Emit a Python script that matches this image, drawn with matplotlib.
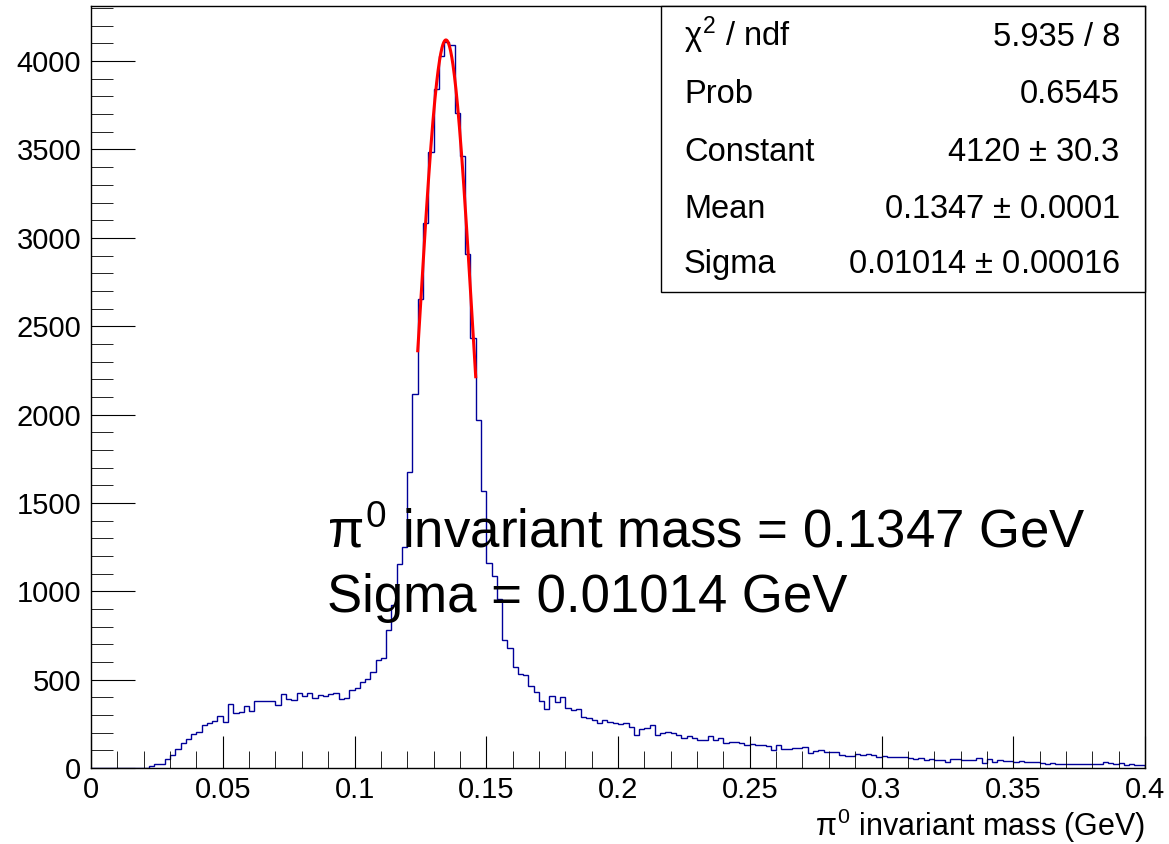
import numpy as np
import matplotlib
matplotlib.use("Agg")
import matplotlib.pyplot as plt
from matplotlib.patches import Rectangle

plt.rcParams['font.family'] = ['Liberation Sans', 'DejaVu Sans']
plt.rcParams['mathtext.fontset'] = 'custom'
plt.rcParams['mathtext.rm'] = 'Liberation Sans'
plt.rcParams['mathtext.it'] = 'Liberation Sans'

# histogram: 200 bins from 0 to 0.4 GeV
x_min, x_max, n_bins = 0.0, 0.4, 200
counts = [
    0, 0, 0, 0, 0, 0, 0, 0, 0, 0,
    2, 10, 20, 25, 50, 72, 110, 140, 162, 190,
    205, 243, 252, 268, 297, 260, 362, 311, 318, 350,
    320, 378, 378, 378, 378, 358, 420, 392, 384, 426,
    410, 426, 397, 412, 408, 416, 426, 392, 397, 444,
    452, 486, 505, 545, 612, 620, 781, 922, 1154, 1252,
    1677, 2115, 2652, 3086, 3488, 3841, 4029, 4110, 4092, 3705,
    3465, 2907, 2432, 1969, 1568, 1158, 1087, 955, 724, 677,
    570, 531, 525, 465, 431, 380, 333, 408, 371, 399,
    338, 327, 333, 286, 282, 270, 257, 272, 261, 253,
    248, 252, 233, 185, 219, 229, 242, 185, 197, 206,
    200, 187, 172, 183, 172, 159, 157, 182, 157, 168,
    144, 149, 147, 144, 129, 134, 129, 129, 125, 100,
    130, 110, 110, 115, 115, 121, 83, 96, 102, 93,
    93, 93, 74, 68, 68, 78, 74, 81, 74, 62,
    70, 64, 64, 64, 64, 55, 49, 55, 45, 51,
    47, 43, 36, 51, 53, 43, 45, 45, 55, 30,
    51, 36, 43, 40, 40, 32, 38, 32, 32, 32,
    26, 21, 30, 25, 25, 25, 25, 25, 25, 25,
    25, 25, 34, 26, 23, 26, 19, 23, 19, 15,
]

# gaussian fit result
fit_const, fit_mean, fit_sigma = 4120.0, 0.1347, 0.01014
fit_lo, fit_hi = 0.124, 0.146

stat_names = [r"$\chi^{2}$ / ndf", "Prob", "Constant", "Mean", "Sigma"]
stat_values = ["5.935 / 8", "0.6545", "4120 $\\pm$ 30.3",
               "0.1347 $\\pm$ 0.0001", "0.01014 $\\pm$ 0.00016"]

W, H = 1169, 844
fig = plt.figure(figsize=(W / 100, H / 100), dpi=100)
ax = fig.add_axes([91 / W, 1 - 768 / H, (1145 - 91) / W, (768 - 6) / H])

edges = np.linspace(x_min, x_max, n_bins + 1)
ax.stairs(counts, edges, color='#000099', linewidth=1.0)

xf = np.linspace(fit_lo, fit_hi, 200)
ax.plot(xf, fit_const * np.exp(-0.5 * ((xf - fit_mean) / fit_sigma) ** 2),
        color='red', linewidth=2.2)

ax.set_xlim(x_min, x_max)
ax.set_ylim(0, 4312)
ax.set_xticks(np.arange(0, 0.401, 0.05))
ax.set_xticklabels(["0", "0.05", "0.1", "0.15", "0.2", "0.25", "0.3", "0.35", "0.4"])
ax.set_xticks(np.arange(0, 0.401, 0.01), minor=True)
ax.set_yticks(np.arange(0, 4001, 500))
ax.set_yticks(np.arange(0, 4301, 100), minor=True)
ax.tick_params(which='both', direction='in', top=False, right=False,
               labelsize=21, color='black')
ax.tick_params(axis='x', which='major', length=23, pad=6)
ax.tick_params(axis='x', which='minor', length=12)
ax.tick_params(axis='y', which='major', length=32, pad=7)
ax.tick_params(axis='y', which='minor', length=16)
for s in ax.spines.values():
    s.set_linewidth(1.0)

fig.text(1145 / W, 1 - 836 / H, r"$\pi^{0}$ invariant mass (GeV)",
         ha='right', va='baseline', fontsize=22)

# big annotation
fig.text(327 / W, 1 - 548 / H, r"$\pi^{0}$ invariant mass = 0.1347 GeV",
         ha='left', va='baseline', fontsize=38)
fig.text(327 / W, 1 - 612 / H, "Sigma = 0.01014 GeV",
         ha='left', va='baseline', fontsize=38)

# stats box
fig.patches.append(Rectangle((661 / W, 1 - 292 / H), (1145 - 661) / W, (292 - 6) / H,
                             transform=fig.transFigure, facecolor='white',
                             edgecolor='black', linewidth=1.0, zorder=5))
baselines = [46, 103, 161, 218, 273]
for name, val, yb in zip(stat_names, stat_values, baselines):
    fig.text(684 / W, 1 - yb / H, name, ha='left', va='baseline', fontsize=23.5, zorder=6)
    fig.text(1120 / W, 1 - yb / H, val, ha='right', va='baseline', fontsize=23.5, zorder=6)

fig.savefig("out.png", dpi=100)
